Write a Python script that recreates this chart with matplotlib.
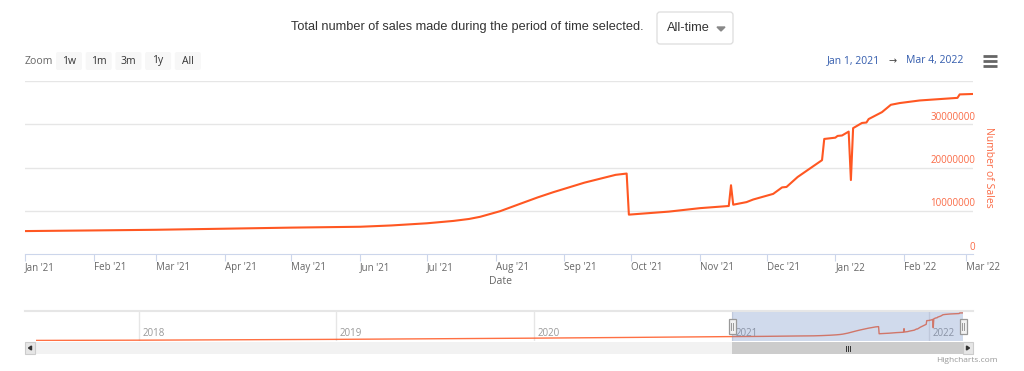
import datetime as dt

import matplotlib
matplotlib.use("Agg")
import matplotlib.pyplot as plt
import matplotlib.dates as mdates
from matplotlib.patches import FancyBboxPatch, Rectangle, Polygon

W, H = 1024, 371

# daily-ish totals shown in the main chart (Jan 2021 - Mar 2022)
sale_dates = [
    "2021-01-01", "2021-02-01", "2021-03-01", "2021-04-01", "2021-05-01",
    "2021-06-01", "2021-06-15", "2021-07-01", "2021-07-13", "2021-07-20",
    "2021-07-25", "2021-08-03", "2021-08-12", "2021-08-20", "2021-08-27",
    "2021-09-10", "2021-09-24", "2021-09-29", "2021-09-30", "2021-10-18",
    "2021-11-01", "2021-11-14", "2021-11-15", "2021-11-16", "2021-11-22",
    "2021-11-25", "2021-12-04", "2021-12-08", "2021-12-10", "2021-12-15",
    "2021-12-26", "2021-12-27", "2022-01-01", "2022-01-02", "2022-01-04",
    "2022-01-07", "2022-01-08", "2022-01-09", "2022-01-13", "2022-01-15",
    "2022-01-16", "2022-01-22", "2022-01-26", "2022-01-30", "2022-02-08",
    "2022-02-25", "2022-02-26", "2022-03-04",
]
sale_values = [
    5300000, 5450000, 5600000, 5850000, 6100000,
    6300000, 6600000, 7100000, 7650000, 8100000,
    8600000, 9900000, 11600000, 13100000, 14300000,
    16500000, 18300000, 18600000, 9100000, 9800000,
    10600000, 11100000, 15900000, 11400000, 12000000,
    12600000, 13900000, 15400000, 15500000, 17800000,
    21700000, 26600000, 26900000, 27300000, 27400000,
    28300000, 17100000, 29100000, 30300000, 30400000,
    31200000, 32800000, 34500000, 34900000, 35500000,
    36100000, 36900000, 37000000,
]

# older history, only visible in the navigator
history_dates = ["2017-06-25", "2018-01-01", "2019-01-01", "2020-01-01", "2020-07-01"]
history_values = [200000, 500000, 1600000, 3200000, 4200000]

y_ticks = [0, 10000000, 20000000, 30000000]
nav_years = [2018, 2019, 2020, 2021, 2022]
zoom_buttons = ["1w", "1m", "3m", "1y", "All"]

LINE = "#ff5722"
AXIS = "#ccd6eb"
GRID = "#e6e6e6"
LABEL = "#666666"
UI_FONT = "Open Sans"


def to_dt(s):
    return dt.datetime.strptime(s, "%Y-%m-%d")


def rect(l, t, r, b):
    return [l / W, 1 - b / H, (r - l) / W, (b - t) / H]


dates = [to_dt(d) for d in sale_dates]
start, end = dt.datetime(2021, 1, 1), dt.datetime(2022, 3, 4)

fig = plt.figure(figsize=(W / 100, H / 100), dpi=100)

# main chart
ax = fig.add_axes(rect(25, 81, 973, 254))
ax.plot(dates, sale_values, color=LINE, lw=1.5, solid_joinstyle="round")
ax.set_xlim(start, end)
ax.set_ylim(0, 40000000)
ax.set_yticks([10000000, 20000000, 30000000, 40000000])
ax.grid(axis="y", color=GRID, lw=1)
ax.tick_params(axis="y", length=0, labelleft=False)
for s in ["top", "left", "right"]:
    ax.spines[s].set_visible(False)
ax.spines["bottom"].set_color(AXIS)
ax.xaxis.set_major_locator(mdates.MonthLocator())
ax.xaxis.set_major_formatter(mdates.DateFormatter("%b '%y"))
ax.tick_params(axis="x", length=5, color=AXIS, pad=0.5, labelsize=7,
               labelcolor=LABEL)
for lab in ax.get_xticklabels():
    lab.set_ha("left")
    lab.set_fontfamily(UI_FONT)
for v in y_ticks:
    ax.annotate(f"{v}", xy=(1, v), xycoords=("axes fraction", "data"),
                xytext=(1.5, 1), textcoords="offset points", ha="right",
                va="bottom", color="#fa6a45", fontsize=7, family=UI_FONT)

fig.text(988 / W, 1 - 167 / H, "Number of Sales", rotation=270, ha="center",
         va="center", color="#fa6a45", fontsize=7.5, family=UI_FONT)
fig.text(500 / W, 1 - 281 / H, "Date", ha="center", va="center", color=LABEL,
         fontsize=7.5, family=UI_FONT)

# navigator
nav = fig.add_axes(rect(36, 311, 963, 341))
nav.patch.set_visible(False)
nav_dates = [to_dt(d) for d in history_dates] + dates
nav_values = history_values + sale_values
nav.plot(nav_dates, nav_values, color=LINE, lw=1, alpha=0.85, zorder=2)
nav.set_xlim(to_dt(history_dates[0]), end)
nav.set_ylim(-600000, 39500000)
nav.axis("off")
for yr in nav_years:
    d = dt.datetime(yr, 1, 1)
    nav.axvline(d, color=GRID, lw=1, zorder=1)
    nav.annotate(str(yr), xy=(d, 0), xycoords=("data", "axes fraction"),
                 xytext=(2.5, 1.5), textcoords="offset points", ha="left",
                 va="bottom", color="#999999", fontsize=7, family=UI_FONT)
nav.axvspan(start, end, facecolor=(0.4, 0.52, 0.76), alpha=0.3, lw=0, zorder=3)

# overlay in pixel coordinates for the surrounding widgets
ov = fig.add_axes([0, 0, 1, 1])
ov.set_xlim(0, W)
ov.set_ylim(H, 0)
ov.axis("off")
ov.set_zorder(10)
ov.patch.set_visible(False)

ov.plot([25, 973], [310.5, 310.5], color=GRID, lw=1.5)

# scrollbar
ov.add_patch(Rectangle((25, 342), 948, 12, facecolor="#f2f2f2", edgecolor="none"))
ov.add_patch(Rectangle((732, 342), 231, 12, facecolor="#cccccc", edgecolor="none"))
for bx in (25, 963):
    ov.add_patch(Rectangle((bx, 342), 10, 12, facecolor="#e6e6e6",
                           edgecolor="#cccccc", lw=0.8))
ov.add_patch(Polygon([[31.5, 346], [31.5, 350], [28.5, 348]], color="#333333"))
ov.add_patch(Polygon([[966.5, 346], [966.5, 350], [969.5, 348]], color="#333333"))
gx = (732 + 963) / 2
for dx in (-2, 0, 2):
    ov.plot([gx + dx, gx + dx], [345.5, 350.5], color="#333333", lw=0.7)

# navigator handles
for hx in (732, 963):
    ov.add_patch(Rectangle((hx - 3.5, 319), 7, 15, facecolor="#f2f2f2",
                           edgecolor="#999999", lw=0.9))
    for dx in (-1, 1):
        ov.plot([hx + dx, hx + dx], [323, 330], color="#999999", lw=0.7)

# header text and dropdown
ov.text(467, 27, "Total number of sales made during the period of time selected.",
        ha="center", va="center", color="#333333", fontsize=9.2,
        family="Liberation Sans")
ov.add_patch(FancyBboxPatch((657, 12), 76, 32,
                            boxstyle="round,pad=0,rounding_size=3",
                            facecolor="white", edgecolor="#dddddd", lw=0.9))
ov.text(667, 28, "All-time", ha="left", va="center", color="#333333",
        fontsize=9.2, family="Liberation Sans")
ov.add_patch(Polygon([[717, 27], [725, 27], [721, 31]], color="#888888"))

# range selector
ov.text(25, 61, "Zoom", ha="left", va="center", color=LABEL, fontsize=7.5,
        family=UI_FONT)
for i, lab in enumerate(zoom_buttons):
    bx = 56 + i * 29.7
    ov.add_patch(FancyBboxPatch((bx, 52), 26, 18,
                                boxstyle="round,pad=0,rounding_size=2",
                                facecolor="#f7f7f7", edgecolor="none"))
    ov.text(bx + 13, 61, lab, ha="center", va="center", color="#333333",
            fontsize=7.5, family=UI_FONT)

ov.text(827, 61, "Jan 1, 2021", ha="left", va="center", color="#335cad",
        fontsize=7.5, family=UI_FONT)
ov.text(893, 61, "\u2192", ha="center", va="center", color="#444444",
        fontsize=7, family="DejaVu Sans")
ov.text(906, 61, "Mar 4, 2022", ha="left", va="center", color="#335cad",
        fontsize=7.5, family=UI_FONT)

# export menu icon
for yy in (56, 61, 66):
    ov.plot([983, 997], [yy, yy], color="#666666", lw=2, solid_capstyle="butt")

ov.text(998, 360, "Highcharts.com", ha="right", va="center", color="#999999",
        fontsize=6, family=UI_FONT)

fig.savefig("out.png", dpi=100)
